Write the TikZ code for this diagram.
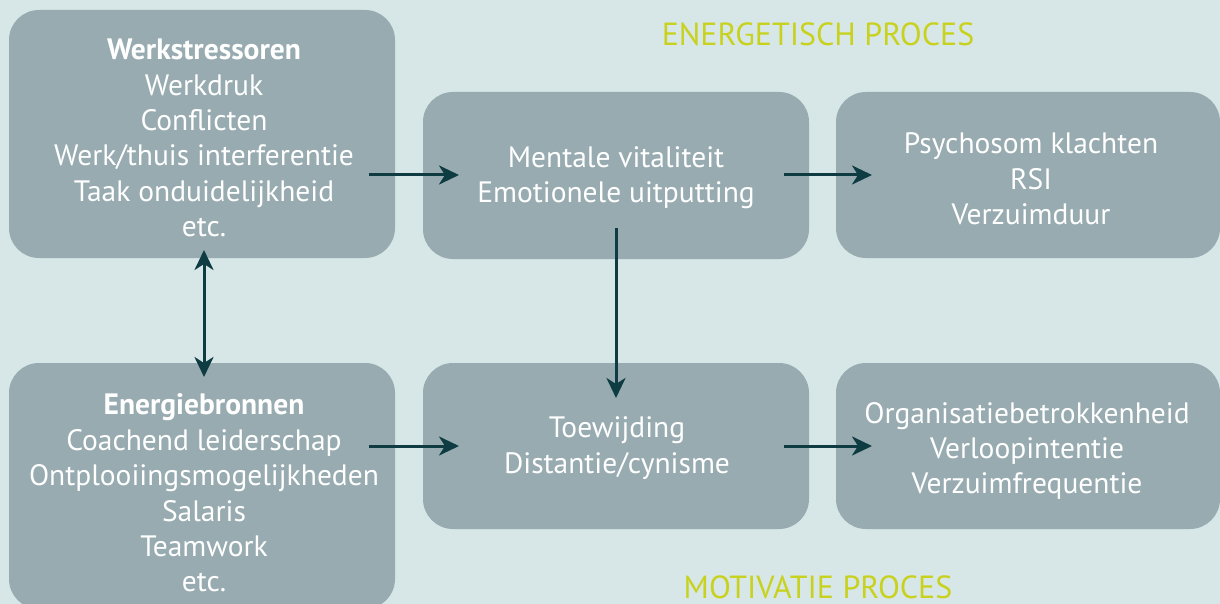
\documentclass[tikz,border=0pt]{standalone}
\usepackage{fontspec}
\setmainfont{PT Sans}
\usetikzlibrary{arrows.meta}
\definecolor{bgcol}{RGB}{215,231,232}
\definecolor{boxcol}{RGB}{151,171,176}
\definecolor{arrowcol}{RGB}{14,60,66}
\definecolor{titlecol}{RGB}{200,210,30}
\tikzset{
  panel/.style={fill=boxcol, draw=none, rounded corners=30pt, inner sep=0pt},
  boxtext/.style={text=white, align=center, inner sep=0pt,
    font=\fontsize{29.5}{35.4}\selectfont},
  proctitle/.style={text=titlecol, anchor=base, inner sep=0pt,
    font=\fontsize{32}{36}\selectfont},
  flow/.style={draw=arrowcol, line width=3pt,
    -{Stealth[length=20pt,width=19pt,inset=6pt]}},
  flowboth/.style={draw=arrowcol, line width=3pt,
    {Stealth[length=20pt,width=19pt,inset=6pt]}-{Stealth[length=20pt,width=19pt,inset=6pt]}},
}
\begin{document}
\begin{tikzpicture}[x=1pt,y=-1pt]
  \useasboundingbox (0,0) rectangle (1220,604);
  \clip (0,0) rectangle (1220,604);
  \fill[bgcol] (0,0) rectangle (1220,604);

  % panels
  \node[panel, minimum width=386pt, minimum height=248pt] (stress) at (202,134) {};
  \node[panel, minimum width=386pt, minimum height=246pt] (bron) at (202,486) {};
  \node[panel, minimum width=386pt, minimum height=167pt] (vital) at (616,175.5) {};
  \node[panel, minimum width=384pt, minimum height=166pt] (klacht) at (1028,175) {};
  \node[panel, minimum width=386pt, minimum height=166pt] (toew) at (616,446) {};
  \node[panel, minimum width=384pt, minimum height=166pt] (org) at (1028,446) {};

  % panel texts
  \node[boxtext] (stressT) at (204,138) {\textbf{Werkstressoren}\\Werkdruk\\Conflicten\\Werk/thuis interferentie\\Taak onduidelijkheid\\etc.};
  \node[boxtext] (bronT) at (204,493) {\textbf{Energiebronnen}\\Coachend leiderschap\\Ontplooiingsmogelijkheden\\Salaris\\Teamwork\\etc.};
  \node[boxtext] (vitalT) at (616,177.5) {Mentale vitaliteit\\Emotionele uitputting};
  \node[boxtext] (klachtT) at (1031,179) {Psychosom klachten\\RSI\\Verzuimduur};
  \node[boxtext] (toewT) at (617,448) {Toewijding\\Distantie/cynisme};
  \node[boxtext] (orgT) at (1027,451) {Organisatiebetrokkenheid\\Verloopintentie\\Verzuimfrequentie};

  % process titles
  \node[proctitle] (energ) at (818,46) {ENERGETISCH PROCES};
  \node[proctitle] (motiv) at (818,598) {MOTIVATIE PROCES};

  % connector end points
  \coordinate (a1) at (369,175);  \coordinate (a2) at (459,175);
  \coordinate (b1) at (784,175);  \coordinate (b2) at (872,175);
  \coordinate (c1) at (616,228);  \coordinate (c2) at (616,398);
  \coordinate (d1) at (204,250);  \coordinate (d2) at (204,377);
  \coordinate (e1) at (369,446);  \coordinate (e2) at (459,446);
  \coordinate (f1) at (784,446);  \coordinate (f2) at (872,446);

  \draw[flow] (a1) -- (a2);
  \draw[flow] (b1) -- (b2);
  \draw[flow] (c1) -- (c2);
  \draw[flowboth] (d1) -- (d2);
  \draw[flow] (e1) -- (e2);
  \draw[flow] (f1) -- (f2);
\end{tikzpicture}
\end{document}
